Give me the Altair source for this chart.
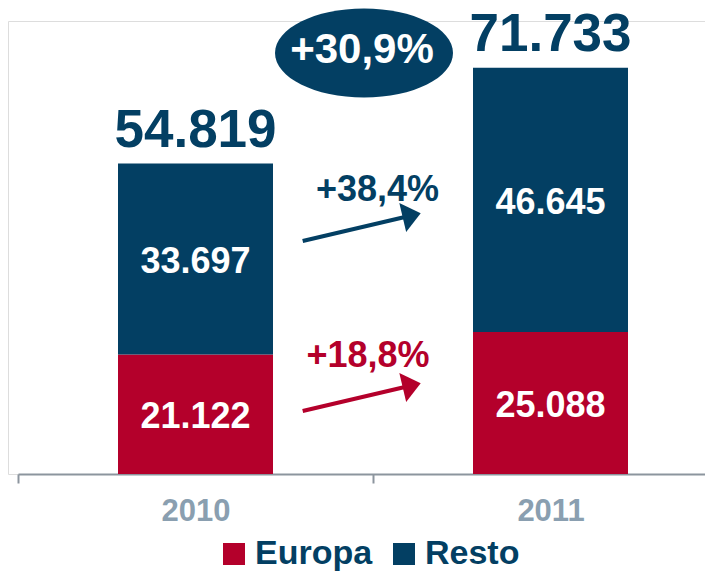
import altair as alt
import pandas as pd

# ---- data ----
years = ["2010", "2011"]
europa = [21122, 25088]
resto = [33697, 46645]
totals = [54819, 71733]
series = ["Europa", "Resto"]
growth_resto = "+38,4%"
growth_europa = "+18,8%"
growth_total = "+30,9%"

BLUE = "#033f63"
RED = "#b4002b"
AXIS_GRAY = "#8c959e"
LABEL_GRAY = "#8a9fb0"
FONT = "Liberation Sans"
OX = 10  # left inset of the plot inside the view


def fmt(v):
    return f"{v:,}".replace(",", ".")


rows = []
for i, yr in enumerate(years):
    base = 0
    for s, vals, o in (("Europa", europa, 0), ("Resto", resto, 1)):
        v = vals[i]
        rows.append({"year": yr, "serie": s, "value": v, "ord": o,
                     "mid": base + v / 2, "label": fmt(v)})
        base += v
df = pd.DataFrame(rows)
tot = pd.DataFrame({"year": years, "total": totals, "label": [fmt(t) for t in totals]})

xenc = alt.X("year:N",
             scale=alt.Scale(range=[OX, OX + 710], paddingInner=0, paddingOuter=0),
             axis=alt.Axis(title=None, labelAngle=0, tickBand="extent",
                           domainColor=AXIS_GRAY, domainWidth=2,
                           tickColor=AXIS_GRAY, tickWidth=2, tickSize=9,
                           labelFontSize=31, labelFontWeight="bold",
                           labelColor=LABEL_GRAY, labelPadding=13,
                           labelFont=FONT, grid=False))
yscale = alt.Scale(domain=[0, 80000], nice=False, zero=True)

bars = alt.Chart(df).mark_bar(size=155).encode(
    x=xenc,
    y=alt.Y("value:Q", stack="zero", scale=yscale, axis=None),
    order=alt.Order("ord:Q"),
    color=alt.Color("serie:N",
                    scale=alt.Scale(domain=series, range=[RED, BLUE]),
                    legend=alt.Legend(title=None, orient="none", legendX=OX + 199, legendY=516,
                                      direction="horizontal", symbolType="square",
                                      symbolSize=484, symbolStrokeWidth=0,
                                      labelFontSize=34, labelFontWeight="bold",
                                      labelColor=BLUE, labelFont=FONT, labelOffset=4,
                                      columnPadding=14, labelLimit=400, padding=0)),
)

inner = alt.Chart(df).mark_text(color="white", fontSize=36, fontWeight="bold",
                                font=FONT, baseline="middle", dy=3).encode(
    x=alt.X("year:N"),
    y=alt.Y("mid:Q", scale=yscale, axis=None),
    text="label:N",
)

total_txt = alt.Chart(tot).mark_text(color=BLUE, fontSize=53, fontWeight="bold",
                                     font=FONT, baseline="alphabetic", dy=-17).encode(
    x=alt.X("year:N"),
    y=alt.Y("total:Q", scale=yscale, axis=None),
    text="label:N",
)

ARROW_HEAD = "M 1 0 L -0.23 -1 L -0.23 1 Z"
ELLIPSE = "M -1 0 A 1 0.5 0 1 1 1 0 A 1 0.5 0 1 1 -1 0 Z"


def arrow(color, y0, label, lx, ly):
    d = pd.DataFrame({"t": [label]})
    line = alt.Chart(d).mark_rule(strokeWidth=4, color=color).encode(
        x=alt.value(OX + 284.7), x2=alt.value(OX + 388), y=alt.value(y0), y2=alt.value(y0 - 24.3))
    head = alt.Chart(d).mark_point(shape=ARROW_HEAD, size=900, filled=True, opacity=1,
                                   angle=346.8, color=color, strokeWidth=0).encode(
        x=alt.value(OX + 388.1), y=alt.value(y0 - 24.3))
    txt = alt.Chart(d).mark_text(color=color, fontSize=36, fontWeight="bold", font=FONT,
                                 baseline="alphabetic").encode(
        x=alt.value(OX + lx), y=alt.value(ly), text="t:N")
    return [line, head, txt]


dt = pd.DataFrame({"t": [growth_total]})
ellipse = alt.Chart(dt).mark_point(shape=ELLIPSE, size=31684, filled=True, opacity=1,
                                   color=BLUE, strokeWidth=0).encode(
    x=alt.value(OX + 346), y=alt.value(32))
ell_txt = alt.Chart(dt).mark_text(color="white", fontSize=42, fontWeight="bold", font=FONT,
                                  baseline="alphabetic").encode(
    x=alt.value(OX + 344), y=alt.value(42), text="t:N")

layers = [bars, inner, total_txt] + arrow(BLUE, 220, growth_resto, 359.5, 179.7) \
    + arrow(RED, 390, growth_europa, 350, 346) + [ellipse, ell_txt]

chart = alt.layer(*layers).properties(
    width=697, height=453,
    autosize=alt.AutoSizeParams(type="none"),
    padding={"left": 0, "top": 13, "right": 0, "bottom": 97},
).configure_view(stroke=None).configure_axisY(
    domain=False, ticks=False, labels=False, grid=False
).configure(font=FONT)

chart.save("out.html", embed_options={"renderer": "svg", "actions": False})
